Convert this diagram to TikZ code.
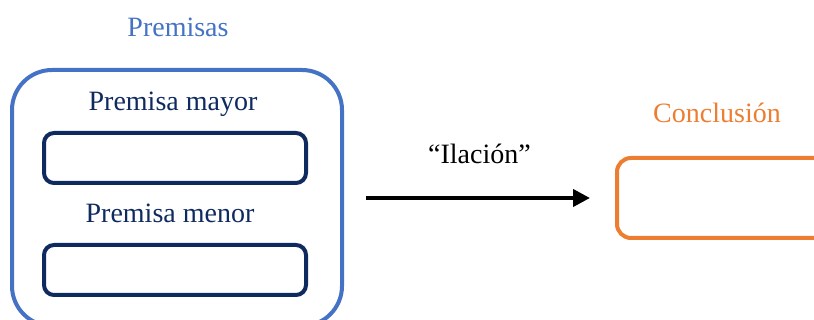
\documentclass[tikz,border=0pt]{standalone}
\usepackage{fontspec}
\setmainfont{Liberation Serif}
\usetikzlibrary{arrows.meta}
\definecolor{pblue}{HTML}{4472C4}
\definecolor{navy}{HTML}{0F2A5F}
\definecolor{orng}{HTML}{ED7D31}
\begin{document}
\begin{tikzpicture}[x=1pt,y=-1pt,
  lbl/.style={font=\fontsize{28}{33}\selectfont, anchor=base, inner sep=0pt},
  outerbox/.style={draw=pblue, line width=4pt, rounded corners=40pt, minimum width=330pt, minimum height=256pt, inner sep=0pt, outer sep=0pt},
  inbox/.style={draw=navy, line width=4pt, rounded corners=10pt, minimum width=262pt, minimum height=50pt, inner sep=0pt, outer sep=0pt},
  conbox/.style={draw=orng, line width=4pt, rounded corners=14pt, minimum width=230pt, minimum height=80pt, inner sep=0pt, outer sep=0pt},
  arr/.style={line width=4pt, -{Triangle[length=17pt,width=17pt]}}]
\clip (0,0) rectangle (814,320);
\node[outerbox, anchor=north west] (prem) at (12,70) {};
\node[lbl, text=pblue] (tprem) at (178,37) {Premisas};
\node[lbl, text=navy] (tmayor) at (173,111) {Premisa mayor};
\node[inbox] (mayor) at (175,158) {};
\node[lbl, text=navy] (tmenor) at (170,223) {Premisa menor};
\node[inbox] (menor) at (175,270) {};
\node[conbox, anchor=west] (concl) at (617,198) {};
\node[lbl, text=orng] (tconcl) at (717,123) {Conclusión};
\draw[arr, shorten <=24pt, shorten >=27pt] (prem.east) -- (concl.west) node[midway, lbl, text=black, yshift=34pt] (ilacion) {“Ilación”};
\end{tikzpicture}
\end{document}
